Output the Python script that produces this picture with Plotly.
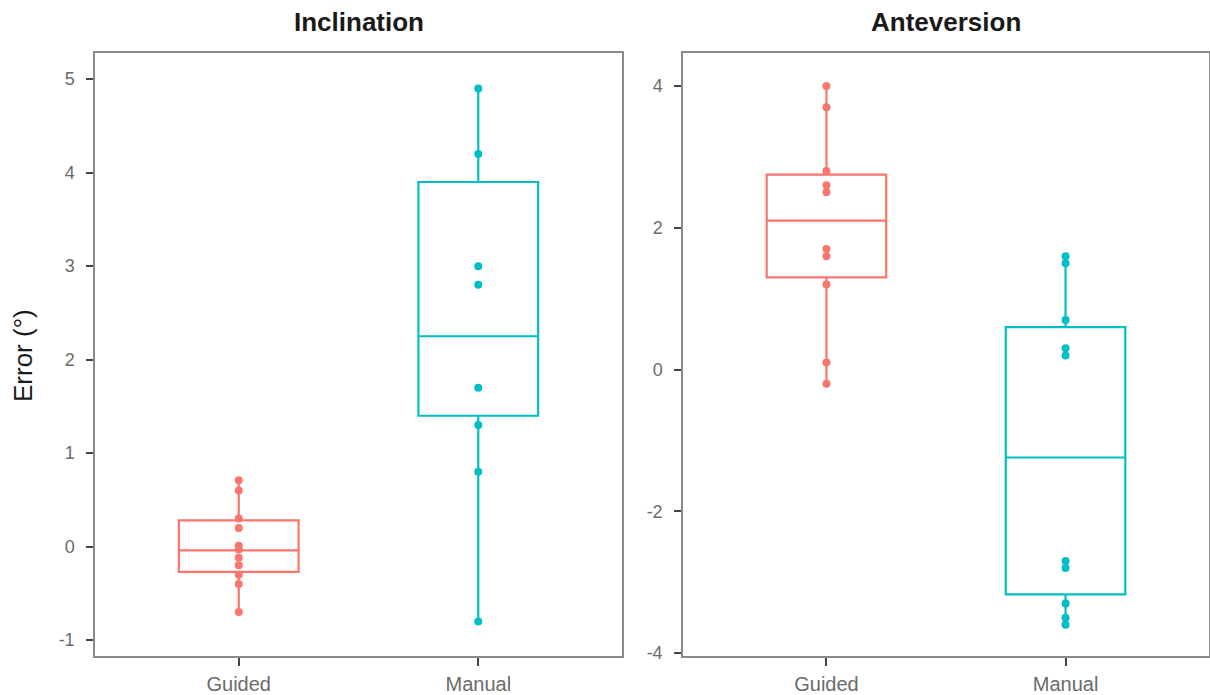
import plotly.graph_objects as go

groups = ["Guided", "Manual"]
colors = {"Guided": "#F8766D", "Manual": "#00BFC4"}

# Inclination error points
incl_guided = [0.71, 0.60, 0.30, 0.20, 0.01, -0.03, -0.12, -0.20, -0.30, -0.40, -0.70]
incl_manual = [4.90, 4.20, 3.00, 2.80, 1.70, 1.30, 0.80, -0.80]
# Anteversion error points
ante_guided = [4.00, 3.70, 2.80, 2.60, 2.50, 1.70, 1.60, 1.20, 0.10, -0.20]
ante_manual = [1.60, 1.50, 0.70, 0.30, 0.20, -2.70, -2.80, -3.30, -3.50, -3.60]

# Box statistics: [q1, median, q3, lower whisker, upper whisker]
incl_box = {"Guided": [-0.27, -0.04, 0.28, -0.70, 0.71],
            "Manual": [1.40, 2.25, 3.90, -0.80, 4.90]}
ante_box = {"Guided": [1.30, 2.10, 2.75, -0.20, 4.00],
            "Manual": [-3.17, -1.24, 0.60, -3.60, 1.60]}

incl_ticks = [-1, 0, 1, 2, 3, 4, 5]
ante_ticks = [-4, -2, 0, 2, 4]
panel_titles = ["Inclination", "Anteversion"]
y_title = "Error (°)"

fig = go.Figure()

panels = [
    ("x", "y", incl_box, {"Guided": incl_guided, "Manual": incl_manual}),
    ("x2", "y2", ante_box, {"Guided": ante_guided, "Manual": ante_manual}),
]

for xa, ya, boxes, pts in panels:
    for g in groups:
        q1, med, q3, lo, hi = boxes[g]
        fig.add_trace(go.Box(
            x=[g], q1=[q1], median=[med], q3=[q3], lowerfence=[lo], upperfence=[hi],
            width=0.5, whiskerwidth=0, line=dict(color=colors[g], width=2.2),
            fillcolor="rgba(255,255,255,0)", boxpoints=False,
            xaxis=xa, yaxis=ya, showlegend=False, hoverinfo="skip",
        ))
    for g in groups:
        fig.add_trace(go.Scatter(
            x=[g] * len(pts[g]), y=pts[g], mode="markers",
            marker=dict(color=colors[g], size=8),
            xaxis=xa, yaxis=ya, showlegend=False,
        ))

axis_line = "#8a8a8a"
tick_col = "#444444"
lab_col = "#6b6b6b"
font_fam = "Liberation Sans, Arial, sans-serif"

xcommon = dict(type="category", categoryorder="array", categoryarray=groups,
               range=[-0.6, 1.6], showgrid=False, zeroline=False, automargin=False,
               showline=True, mirror=True, linecolor=axis_line, linewidth=1.5,
               ticks="outside", ticklen=8, tickwidth=2, tickcolor=tick_col,
               ticklabelstandoff=1,
               tickfont=dict(size=20, color=lab_col, family=font_fam))
ycommon = dict(showgrid=False, zeroline=False, automargin=False,
               showline=True, mirror=True, linecolor=axis_line, linewidth=1.5,
               ticks="outside", ticklen=7, tickwidth=2, tickcolor=tick_col,
               ticklabelstandoff=8,
               tickfont=dict(size=18, color=lab_col, family=font_fam))

fig.update_layout(
    width=1210, height=695,
    margin=dict(l=0, r=0, t=0, b=0),
    paper_bgcolor="white", plot_bgcolor="white",
    boxmode="overlay",
    xaxis=dict(domain=[95 / 1210, 622 / 1210], anchor="y", **xcommon),
    xaxis2=dict(domain=[683 / 1210, 1209 / 1210], anchor="y2", **xcommon),
    yaxis=dict(domain=[1 - 656 / 695, 1 - 53 / 695], anchor="x", range=[-1.17, 5.28],
               tickvals=incl_ticks, ticktext=[str(t) for t in incl_ticks],
               **ycommon),
    yaxis2=dict(domain=[1 - 656 / 695, 1 - 53 / 695], anchor="x2", range=[-4.04, 4.465],
                tickvals=ante_ticks, ticktext=[str(t) for t in ante_ticks],
                **ycommon),
    annotations=[
        dict(text="<b>%s</b>" % panel_titles[0], x=(95 + 622) / 2 / 1210, y=1 - 22 / 695,
             xref="paper", yref="paper", showarrow=False, xanchor="center", yanchor="middle",
             font=dict(size=26, color="#1a1a1a", family=font_fam)),
        dict(text="<b>%s</b>" % panel_titles[1], x=(683 + 1209) / 2 / 1210, y=1 - 22 / 695,
             xref="paper", yref="paper", showarrow=False, xanchor="center", yanchor="middle",
             font=dict(size=26, color="#1a1a1a", family=font_fam)),
        dict(text=y_title, x=23 / 1210, y=1 - 355 / 695, xref="paper", yref="paper",
             showarrow=False, textangle=-90, xanchor="center", yanchor="middle",
             font=dict(size=26, color="#1a1a1a", family=font_fam)),
    ],
)

fig.write_html("out.html")
